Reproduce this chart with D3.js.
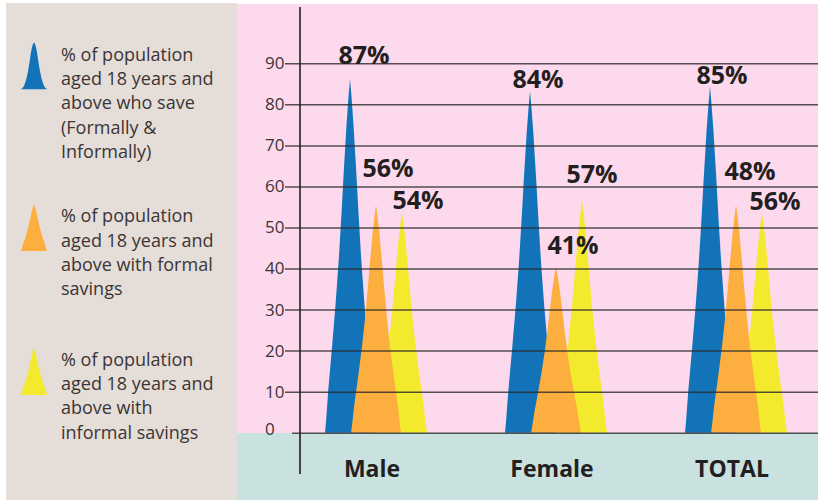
<!DOCTYPE html>
<html>
<head>
<meta charset="utf-8">
<script src="https://cdn.jsdelivr.net/npm/d3@7"></script>
<style>
  html, body { margin: 0; padding: 0; background: #ffffff; }
  svg { display: block; }
</style>
</head>
<body>
<svg id="chart" width="818" height="500"></svg>
<script>
// ---------------- data ----------------
const categories = ["Male", "Female", "TOTAL"];
const seriesKeys = ["save", "informal", "formal"];
// heights of the drawn spikes
const saveValues = [86.2, 83.2, 84.3];       // blue
const formalValues = [55.5, 40.4, 55.5];     // orange
const informalValues = [53.6, 56.5, 53.6];   // yellow
// printed value labels
const saveLabels = ["87%", "84%", "85%"];
const formalLabels = ["56%", "41%", "48%"];
const informalLabels = ["54%", "57%", "56%"];
const yTicks = [0, 10, 20, 30, 40, 50, 60, 70, 80, 90];
const legendTexts = [
  ["% of population", "aged 18 years and", "above who save", "(Formally &", "Informally)"],
  ["% of population", "aged 18 years and", "above with formal", "savings"],
  ["% of population", "aged 18 years and", "above with", "informal savings"]
];

// ---------------- styles / layout ----------------
const colors = { save: "#1273b9", formal: "#fcae3e", informal: "#f3ea2d" };
const seriesOffset = { save: 0, formal: 26, informal: 52 };
// label nudges (px) relative to the tip of each spike, per series per category
const labelNudge = {
  save: [[14, -15], [8, -3], [12, -3]],
  formal: [[12, -28], [17, -13], [14, -25]],
  informal: [[16, -4], [10, -18], [13, -3]]
};
const textColor = "#231f20";
const fontFamily = "'Open Sans', 'Noto Sans', sans-serif";

const svg = d3.select("#chart");

// backgrounds
svg.append("rect").attr("x", 6).attr("y", 3).attr("width", 231).attr("height", 497).attr("fill", "#e5ddd7");
svg.append("rect").attr("x", 237).attr("y", 4).attr("width", 581).attr("height", 429).attr("fill", "#fcd9ec");
svg.append("rect").attr("x", 237).attr("y", 433).attr("width", 581).attr("height", 67).attr("fill", "#c9e2df");

// scales
const y = d3.scaleLinear().domain([0, 90]).range([432.7, 63.3]);
const x = d3.scalePoint().domain(categories).range([350, 710]);

// spike shape templates: [fraction of height, fraction of half-base]
const shape = [[0, 1], [0.04, 0.95], [0.12, 0.87], [0.25, 0.71], [0.37, 0.57], [0.5, 0.44],
               [0.62, 0.34], [0.75, 0.24], [0.87, 0.14], [0.95, 0.06], [1, 0]];
const bell = [[0, 1], [0.05, 0.82], [0.12, 0.70], [0.25, 0.56], [0.4, 0.45], [0.55, 0.36],
              [0.7, 0.28], [0.82, 0.21], [0.91, 0.14], [0.97, 0.07], [1, 0]];
function spikePath(cx, yBase, yTop, halfW, tpl) {
  const h = yBase - yTop;
  const left = tpl.map(([f, w]) => [cx - halfW * w, yBase - h * f]);
  const right = tpl.slice(0, -1).reverse().map(([f, w]) => [cx + halfW * w, yBase - h * f]);
  return d3.line().curve(d3.curveLinear)(left.concat(right)) + "Z";
}

const valuesBy = { save: saveValues, formal: formalValues, informal: informalValues };
const labelsBy = { save: saveLabels, formal: formalLabels, informal: informalLabels };

const bars = [];
seriesKeys.forEach(k => {
  categories.forEach((c, i) => {
    bars.push({ key: k, cat: c, i: i, value: valuesBy[k][i], label: labelsBy[k][i] });
  });
});

// spikes (blue, then yellow, orange on top)
svg.append("g").selectAll("path").data(bars).join("path")
  .attr("d", d => spikePath(x(d.cat) + seriesOffset[d.key], y(0), y(d.value), 25, shape))
  .attr("fill", d => colors[d.key]);

// grid / axis
const axis = d3.axisLeft(y).tickValues(yTicks).tickSizeInner(-(818 - 285)).tickSizeOuter(0);
const ga = svg.append("g").attr("transform", "translate(285,0)").call(axis);
ga.select(".domain").remove();
ga.selectAll(".tick line")
  .attr("stroke", "#2a2a2a").attr("stroke-width", 1.5).attr("stroke-opacity", 0.8)
  .attr("x1", d => d === 0 ? 7 : 0);
ga.selectAll(".tick text")
  .attr("x", -20).attr("text-anchor", "start")
  .attr("dy", d => d === 0 ? "0.1em" : "0.32em")
  .attr("fill", "#3a3536")
  .style("font-family", fontFamily).style("font-size", "17px");

svg.append("line").attr("x1", 300).attr("x2", 300).attr("y1", 7).attr("y2", 474)
  .attr("stroke", "#231f20").attr("stroke-width", 1.6);

// value labels
svg.append("g").selectAll("text").data(bars).join("text")
  .attr("x", d => x(d.cat) + seriesOffset[d.key] + labelNudge[d.key][d.i][0])
  .attr("y", d => y(d.value) + labelNudge[d.key][d.i][1])
  .attr("text-anchor", "middle")
  .attr("fill", textColor)
  .style("font-family", fontFamily).style("font-weight", 700).style("font-size", "25px")
  .text(d => d.label);

// category labels
svg.append("g").selectAll("text").data(categories).join("text")
  .attr("x", d => x(d) + 22)
  .attr("y", 477)
  .attr("text-anchor", "middle")
  .attr("fill", textColor)
  .style("font-family", fontFamily).style("font-weight", 700).style("font-size", "23px")
  .text(d => d);

// legend
const legendKeys = ["save", "formal", "informal"];
const legendTop = [42.3, 204, 348];
const legendTextTop = [60.7, 222.3, 365.7];
const lg = svg.append("g");
legendKeys.forEach((k, i) => {
  lg.append("path")
    .attr("d", spikePath(34, legendTop[i] + 47, legendTop[i], 13, k === "save" ? bell : shape))
    .attr("fill", colors[k]);
  const t = lg.append("text")
    .attr("fill", "#3b3536")
    .style("font-family", fontFamily).style("font-size", "18px");
  legendTexts[i].forEach((line, j) => {
    t.append("tspan").attr("x", 61).attr("y", legendTextTop[i] + j * 24.3).text(line);
  });
});
</script>
</body>
</html>
